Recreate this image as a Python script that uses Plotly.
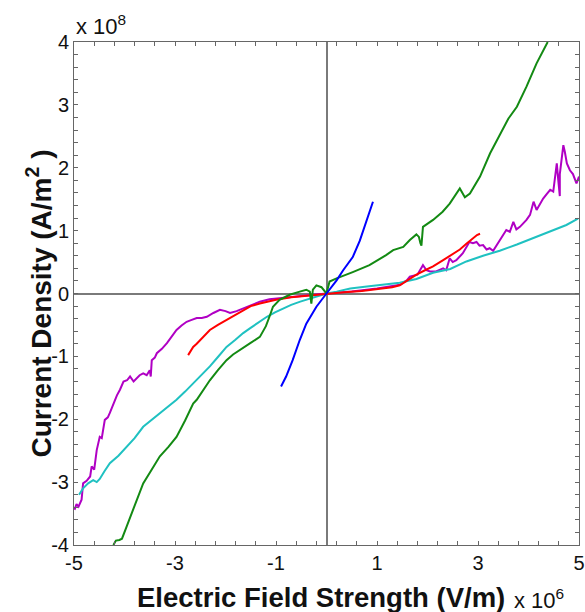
import plotly.graph_objects as go

# Electric field in units of 1e6 V/m, current density in units of 1e8 A/m^2
blue_E = [-0.90, -0.80, -0.67, -0.53, -0.40, -0.20, 0.00, 0.20, 0.33, 0.52, 0.66, 0.79, 0.92]
blue_J = [-1.48, -1.32, -1.06, -0.74, -0.48, -0.21, 0.00, 0.21, 0.37, 0.58, 0.84, 1.17, 1.46]

green_E = [-4.22, -4.17, -4.10, -4.05, -3.96, -3.80, -3.63, -3.46, -3.30, -3.13, -2.97, -2.80,
           -2.64, -2.57, -2.45, -2.31, -2.15, -1.98, -1.85, -1.71, -1.51, -1.32, -1.20, -1.13,
           -1.06, -0.93, -0.73, -0.53, -0.40, -0.33, -0.30, -0.27, -0.20, -0.10, -0.04, 0.00,
           0.06, 0.20, 0.52, 0.85, 1.18, 1.32, 1.52, 1.65, 1.78, 1.83, 1.86, 1.88, 1.91, 2.11,
           2.30, 2.44, 2.64, 2.70, 2.74, 2.84, 3.04, 3.24, 3.43, 3.60, 3.77, 3.96, 4.16, 4.29, 4.38]
green_J = [-4.00, -3.93, -3.92, -3.90, -3.71, -3.37, -3.02, -2.80, -2.59, -2.44, -2.28, -2.02,
           -1.75, -1.69, -1.55, -1.38, -1.22, -1.06, -0.97, -0.90, -0.79, -0.69, -0.52, -0.37,
           -0.21, -0.10, -0.02, 0.03, 0.06, 0.03, -0.16, 0.06, 0.13, 0.10, 0.05, 0.00,
           0.19, 0.24, 0.34, 0.45, 0.61, 0.69, 0.74, 0.85, 0.94, 0.90, 0.80, 0.76, 1.06, 1.17,
           1.30, 1.43, 1.67, 1.58, 1.53, 1.59, 1.86, 2.23, 2.52, 2.78, 2.97, 3.29, 3.66, 3.87, 4.00]

cyan_E = [-4.90, -4.82, -4.72, -4.62, -4.55, -4.49, -4.40, -4.29, -4.12, -3.96, -3.80, -3.63,
          -3.46, -3.30, -3.13, -2.97, -2.80, -2.64, -2.47, -2.31, -2.15, -1.98, -1.81, -1.65,
          -1.51, -1.32, -1.18, -1.02, -0.86, -0.70, -0.52, -0.35, -0.19, 0.00, 0.20, 0.47,
          0.80, 1.12, 1.45, 1.78, 2.11, 2.45, 2.77, 3.10, 3.43, 3.77, 4.09, 4.42, 4.75, 4.98]
cyan_J = [-3.20, -3.10, -3.02, -2.97, -3.00, -2.95, -2.83, -2.70, -2.58, -2.44, -2.30, -2.12,
          -2.01, -1.90, -1.80, -1.69, -1.56, -1.43, -1.30, -1.16, -1.01, -0.85, -0.74, -0.63,
          -0.55, -0.45, -0.37, -0.30, -0.24, -0.18, -0.13, -0.09, -0.05, 0.00, 0.03, 0.08,
          0.11, 0.14, 0.17, 0.23, 0.33, 0.39, 0.51, 0.60, 0.68, 0.78, 0.88, 0.98, 1.09, 1.19]

red_E = [-2.74, -2.70, -2.64, -2.57, -2.50, -2.40, -2.31, -2.15, -1.98, -1.81, -1.65, -1.50,
         -1.32, -1.00, -0.70, -0.35, 0.00, 0.35, 0.70, 1.05, 1.30, 1.45, 1.62, 1.78, 1.95,
         2.11, 2.31, 2.51, 2.64, 2.77, 2.91, 2.98, 3.04]
red_J = [-0.98, -0.92, -0.85, -0.80, -0.74, -0.66, -0.58, -0.50, -0.42, -0.34, -0.26, -0.20,
         -0.16, -0.10, -0.06, -0.03, 0.00, 0.02, 0.04, 0.07, 0.10, 0.13, 0.22, 0.30, 0.37,
         0.43, 0.53, 0.64, 0.70, 0.79, 0.89, 0.93, 0.95]

magenta_E = [-4.99, -4.95, -4.91, -4.85, -4.82, -4.75, -4.68, -4.65, -4.60, -4.55, -4.49, -4.45,
             -4.39, -4.33, -4.29, -4.22, -4.15, -4.09, -4.02, -3.95, -3.89, -3.82, -3.76, -3.70,
             -3.63, -3.56, -3.50, -3.48, -3.46, -3.40, -3.36, -3.26, -3.16, -3.06, -2.97, -2.87,
             -2.77, -2.67, -2.57, -2.47, -2.37, -2.24, -2.11, -2.00, -1.91, -1.78, -1.65, -1.50,
             -1.32, -1.13, -0.80, -0.50, -0.25, 0.00, 0.50, 1.00, 1.46, 1.59, 1.65, 1.80, 1.91,
             1.98, 2.05, 2.17, 2.31, 2.37, 2.44, 2.50, 2.57, 2.70, 2.83, 2.90, 2.97, 3.03, 3.10,
             3.17, 3.23, 3.30, 3.37, 3.43, 3.50, 3.56, 3.63, 3.70, 3.76, 3.83, 3.90, 3.96, 4.03,
             4.10, 4.16, 4.22, 4.29, 4.36, 4.43, 4.49, 4.53, 4.56, 4.59, 4.62, 4.62, 4.66, 4.69,
             4.72, 4.76, 4.82, 4.88, 4.95, 5.00]
magenta_J = [-3.44, -3.35, -3.39, -3.28, -3.02, -2.98, -2.91, -2.75, -2.80, -2.49, -2.28, -2.30,
             -2.01, -1.97, -1.90, -1.75, -1.62, -1.53, -1.40, -1.38, -1.32, -1.40, -1.35, -1.30,
             -1.27, -1.30, -1.22, -1.32, -1.06, -1.02, -0.95, -0.88, -0.79, -0.68, -0.58, -0.51,
             -0.45, -0.42, -0.39, -0.39, -0.37, -0.31, -0.26, -0.28, -0.31, -0.28, -0.24, -0.19,
             -0.13, -0.09, -0.06, -0.04, -0.02, 0.00, 0.03, 0.08, 0.14, 0.21, 0.27, 0.30, 0.45,
             0.37, 0.35, 0.35, 0.40, 0.37, 0.56, 0.50, 0.53, 0.64, 0.82, 0.80, 0.82, 0.76, 0.77,
             0.70, 0.72, 0.68, 0.77, 0.85, 0.92, 1.01, 0.98, 1.14, 1.02, 1.06, 1.12, 1.17, 1.25,
             1.46, 1.33, 1.42, 1.51, 1.58, 1.65, 1.62, 1.86, 2.07, 1.80, 1.55, 1.90, 2.20, 2.36,
             2.25, 2.07, 1.96, 1.90, 1.75, 1.86]

# tick positions (minor ticks included) and their labels
x_tickvals = [-5.0, -4.6, -4.2, -3.8, -3.4, -3.0, -2.6, -2.2, -1.8, -1.4, -1.0, -0.6, -0.2,
              0.2, 0.6, 1.0, 1.4, 1.8, 2.2, 2.6, 3.0, 3.4, 3.8, 4.2, 4.6, 5.0]
x_ticktext = ["-5", "", "", "", "", "-3", "", "", "", "", "-1", "", "",
              "", "", "1", "", "", "", "", "3", "", "", "", "", "5"]
y_tickvals = [-4.0, -3.8, -3.6, -3.4, -3.2, -3.0, -2.8, -2.6, -2.4, -2.2, -2.0, -1.8, -1.6,
              -1.4, -1.2, -1.0, -0.8, -0.6, -0.4, -0.2, 0.0, 0.2, 0.4, 0.6, 0.8, 1.0, 1.2,
              1.4, 1.6, 1.8, 2.0, 2.2, 2.4, 2.6, 2.8, 3.0, 3.2, 3.4, 3.6, 3.8, 4.0]
y_ticktext = ["-4", "", "", "", "", "-3", "", "", "", "", "-2", "", "", "", "", "-1", "", "",
              "", "", "0", "", "", "", "", "1", "", "", "", "", "2", "", "", "", "", "3", "",
              "", "", "", "4"]

series = [
    (magenta_E, magenta_J, "#b000c4"),
    (cyan_E, cyan_J, "#1fc1c1"),
    (red_E, red_J, "#ff0000"),
    (green_E, green_J, "#138a13"),
    (blue_E, blue_J, "#0000ff"),
]

fig = go.Figure()
for xs, ys, col in series:
    fig.add_trace(go.Scatter(x=xs, y=ys, mode="lines",
                             line=dict(color=col, width=2), showlegend=False,
                             hoverinfo="skip"))

font_family = "Liberation Sans, Arial, sans-serif"
axis_common = dict(
    showline=True, linecolor="#666666", linewidth=1, mirror="allticks",
    ticks="inside", ticklen=4, tickcolor="#666666", tickwidth=1,
    showgrid=False, zeroline=True, zerolinecolor="#7a7a7a", zerolinewidth=2,
    tickfont=dict(family=font_family, size=20, color="#111111"),
    automargin=False, tickmode="array",
)

fig.update_xaxes(range=[-5, 5], tickvals=x_tickvals, ticktext=x_ticktext, **axis_common)
fig.update_yaxes(range=[-4, 4], tickvals=y_tickvals, ticktext=y_ticktext, **axis_common)

fig.update_layout(
    width=585, height=612,
    margin=dict(l=74, r=6, t=42, b=67),
    plot_bgcolor="white", paper_bgcolor="white",
    font=dict(family=font_family, color="#111111"),
    annotations=[
        dict(text="<b>Electric Field Strength (V/m)</b>", xref="paper", yref="paper",
             x=0.489, y=-0.1034, xanchor="center", yanchor="middle", showarrow=False,
             font=dict(size=27.5, family=font_family, color="#111111")),
        dict(text="<b>Current Density (A/m<sup>2</sup> )</b>", xref="paper", yref="paper",
             x=-0.0693, y=0.480, xanchor="center", yanchor="middle", showarrow=False,
             textangle=-90, font=dict(size=28, family=font_family, color="#111111")),
        dict(text="x 10<sup>8</sup>", xref="paper", yref="paper",
             x=0.0, y=1.002, xanchor="left", yanchor="bottom", showarrow=False,
             font=dict(size=22, family=font_family, color="#111111")),
        dict(text="x 10<sup>6</sup>", xref="paper", yref="paper",
             x=0.8673, y=-0.139, xanchor="left", yanchor="bottom", showarrow=False,
             font=dict(size=22, family=font_family, color="#111111")),
    ],
)

fig.write_html("out.html", config={"displayModeBar": False},
               post_script="document.body.style.margin='0px';document.body.style.overflow='hidden';")
